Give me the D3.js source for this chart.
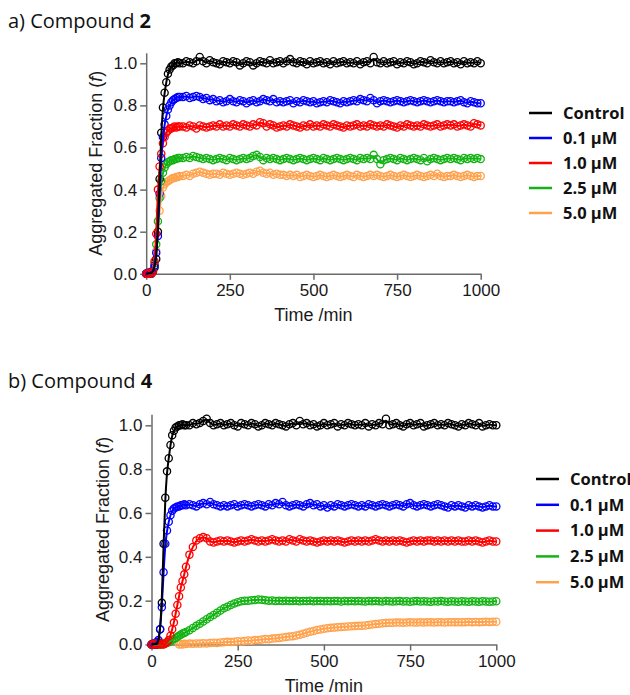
<!DOCTYPE html>
<html>
<head>
<meta charset="utf-8">
<script src="https://cdn.jsdelivr.net/npm/d3@7"></script>
<style>
  body { margin: 0; background: #fff; }
  svg { display: block; }
</style>
</head>
<body>
<div id="root"></div>
<script>
// time points (min), shared by every series
const times = [0,5,10,15,20,25,30,35,40,45,50,55,60,65,70,75,80,85,90,95,100,
  110,120,130,140,150,160,170,180,190,200,
  210,220,230,240,250,260,270,280,290,300,
  310,320,330,340,350,360,370,380,390,400,
  410,420,430,440,450,460,470,480,490,500,
  510,520,530,540,550,560,570,580,590,600,
  610,620,630,640,650,660,670,680,690,700,
  710,720,730,740,750,760,770,780,790,800,
  810,820,830,840,850,860,870,880,890,900,
  910,920,930,940,950,960,970,980,990,1000]

const categories = ["Control", "0.1 µM", "1.0 µM", "2.5 µM", "5.0 µM"]
const xTicks = [0, 250, 500, 750, 1000]
const yTicks = [0, 0.2, 0.4, 0.6, 0.8, 1.0]

// a) Compound 2
const cpd2Control = [0,0,0.005,0,0.01,0.03,0.07,0.2,0.45,0.67,0.79,0.86,0.91,0.95,0.97,0.985,0.99,1.0,1.0,1.005,1.0,
  1.0,1.01,1.005,1.0,1.01,1.03,1.01,1.0,1.015,1.005,
  1.0,0.995,1.01,1.005,1.0,1.01,1.005,0.99,1.0,1.01,
  1.005,0.99,1.0,1.01,1.005,1.0,1.015,1.0,1.005,1.01,
  1.0,1.01,1.02,1.005,1.0,1.01,1.005,0.995,1.01,1.0,
  1.005,1.01,1.0,1.005,0.995,1.01,1.0,1.005,1.01,1.0,
  1.005,1.0,1.01,0.995,1.005,1.01,1.0,1.03,1.005,1.0,
  1.01,1.0,1.005,1.01,0.995,1.005,1.0,1.01,1.005,0.995,
  1.0,1.01,1.005,1.0,1.015,1.005,1.0,1.01,1.0,1.005,
  1.01,1.0,1.005,0.995,1.01,1.0,1.005,1.0,1.01,1.0]
const cpd2Dose01 = [0,0.005,0,0.01,0.01,0.04,0.1,0.18,0.38,0.55,0.65,0.71,0.75,0.78,0.8,0.815,0.825,0.83,0.835,0.84,0.84,
  0.84,0.845,0.835,0.84,0.845,0.84,0.83,0.835,0.825,0.83,
  0.82,0.825,0.815,0.82,0.83,0.82,0.815,0.825,0.82,0.81,
  0.82,0.825,0.815,0.82,0.83,0.825,0.82,0.83,0.815,0.82,
  0.815,0.82,0.825,0.81,0.82,0.815,0.825,0.82,0.815,0.82,
  0.81,0.815,0.82,0.815,0.825,0.82,0.815,0.81,0.82,0.815,
  0.82,0.825,0.82,0.83,0.825,0.82,0.835,0.825,0.81,0.82,
  0.825,0.82,0.815,0.82,0.825,0.82,0.815,0.82,0.825,0.82,
  0.815,0.82,0.825,0.82,0.815,0.82,0.825,0.82,0.815,0.82,
  0.82,0.815,0.82,0.825,0.815,0.81,0.82,0.815,0.81,0.81]
const cpd2Dose10 = [0,0,0.005,0,0.01,0.06,0.19,0.4,0.51,0.57,0.62,0.65,0.67,0.68,0.69,0.69,0.695,0.7,0.695,0.7,0.7,
  0.7,0.695,0.705,0.7,0.69,0.705,0.7,0.695,0.7,0.705,
  0.7,0.71,0.7,0.705,0.7,0.71,0.705,0.7,0.71,0.705,
  0.7,0.71,0.705,0.72,0.715,0.7,0.71,0.705,0.695,0.7,
  0.705,0.7,0.71,0.705,0.7,0.695,0.705,0.7,0.71,0.7,
  0.705,0.7,0.71,0.705,0.7,0.71,0.705,0.7,0.695,0.705,
  0.7,0.705,0.71,0.7,0.705,0.7,0.71,0.705,0.7,0.705,
  0.7,0.71,0.705,0.7,0.695,0.705,0.7,0.71,0.705,0.7,
  0.705,0.7,0.71,0.705,0.7,0.705,0.71,0.7,0.705,0.71,
  0.705,0.71,0.7,0.705,0.71,0.705,0.7,0.715,0.71,0.705]
const cpd2Dose25 = [0,0,0.005,0,0.01,0.05,0.14,0.25,0.36,0.44,0.48,0.505,0.52,0.53,0.535,0.54,0.54,0.545,0.545,0.55,0.55,
  0.55,0.555,0.55,0.56,0.555,0.55,0.545,0.55,0.545,0.54,
  0.545,0.55,0.545,0.54,0.55,0.545,0.54,0.545,0.55,0.545,
  0.55,0.56,0.565,0.555,0.54,0.55,0.545,0.55,0.545,0.54,
  0.545,0.55,0.545,0.54,0.545,0.55,0.545,0.54,0.545,0.55,
  0.545,0.54,0.55,0.545,0.54,0.545,0.55,0.545,0.54,0.545,
  0.55,0.545,0.54,0.55,0.545,0.55,0.545,0.565,0.545,0.52,
  0.54,0.545,0.55,0.545,0.54,0.55,0.545,0.54,0.545,0.55,
  0.545,0.54,0.55,0.535,0.545,0.55,0.545,0.54,0.545,0.55,
  0.545,0.55,0.545,0.54,0.55,0.545,0.55,0.545,0.55,0.545]
const cpd2Dose50 = [0,0,0.005,0,0.01,0.04,0.11,0.2,0.3,0.37,0.41,0.425,0.435,0.44,0.445,0.45,0.455,0.455,0.46,0.46,0.465,
  0.465,0.47,0.465,0.475,0.48,0.485,0.48,0.475,0.47,0.475,
  0.475,0.47,0.48,0.475,0.47,0.475,0.48,0.475,0.47,0.475,
  0.48,0.475,0.485,0.49,0.48,0.475,0.48,0.47,0.475,0.47,
  0.47,0.465,0.47,0.465,0.47,0.46,0.465,0.47,0.465,0.46,
  0.465,0.47,0.465,0.46,0.465,0.47,0.465,0.46,0.465,0.47,
  0.465,0.46,0.47,0.465,0.46,0.465,0.47,0.465,0.47,0.465,
  0.46,0.465,0.47,0.465,0.46,0.465,0.47,0.465,0.46,0.465,
  0.47,0.465,0.46,0.465,0.47,0.465,0.475,0.465,0.46,0.465,
  0.465,0.47,0.465,0.46,0.465,0.47,0.465,0.46,0.465,0.465]

// b) Compound 4
const cpd4Control = [0,0,0.005,0,0.01,0.07,0.19,0.46,0.67,0.79,0.85,0.91,0.955,0.975,0.99,0.995,1.0,1.0,1.005,1.0,1.0,
  1.0,1.01,1.005,1.01,1.02,1.03,1.01,1.0,1.005,1.01,
  1.0,1.005,1.01,1.0,0.995,1.01,1.005,1.0,1.01,1.005,
  0.995,1.0,1.01,1.005,1.0,1.01,1.005,1.0,0.995,1.005,
  1.01,1.0,1.02,1.005,1.01,1.0,1.005,0.995,1.0,1.01,
  1.0,1.005,1.01,0.995,1.005,1.0,1.01,1.005,1.0,1.005,
  1.0,1.01,0.995,1.005,1.0,1.01,1.005,1.03,1.0,1.005,
  1.01,1.0,0.995,1.005,1.01,1.0,1.005,1.01,0.995,1.0,
  1.005,1.01,1.0,1.005,1.0,1.01,1.005,1.0,0.995,1.005,
  1.0,1.01,1.005,1.0,1.01,0.995,1.0,1.005,1.0,1.0]
const cpd4Dose01 = [0,0.005,0,0.01,0.02,0.07,0.17,0.33,0.46,0.52,0.56,0.59,0.61,0.62,0.625,0.63,0.63,0.635,0.635,0.64,0.635,
  0.64,0.635,0.63,0.64,0.645,0.64,0.65,0.64,0.635,0.63,
  0.635,0.63,0.635,0.64,0.63,0.635,0.64,0.635,0.63,0.635,
  0.64,0.635,0.63,0.64,0.635,0.645,0.64,0.65,0.635,0.63,
  0.635,0.64,0.635,0.63,0.64,0.645,0.635,0.64,0.63,0.635,
  0.625,0.635,0.63,0.64,0.635,0.63,0.635,0.64,0.635,0.63,
  0.635,0.63,0.64,0.635,0.63,0.635,0.64,0.635,0.63,0.635,
  0.64,0.635,0.63,0.64,0.645,0.635,0.63,0.635,0.64,0.635,
  0.63,0.635,0.64,0.635,0.63,0.625,0.635,0.63,0.635,0.63,
  0.625,0.635,0.63,0.635,0.63,0.625,0.63,0.635,0.63,0.63]
const cpd4Dose10 = [0,0,0.005,0,0.005,0,0.005,0,0.005,0.01,0.02,0.04,0.07,0.1,0.14,0.18,0.22,0.26,0.29,0.32,0.355,
  0.41,0.445,0.475,0.485,0.49,0.485,0.47,0.465,0.47,0.475,
  0.47,0.475,0.47,0.465,0.47,0.475,0.47,0.475,0.48,0.475,
  0.47,0.475,0.47,0.475,0.48,0.475,0.47,0.475,0.47,0.48,
  0.475,0.47,0.48,0.475,0.47,0.475,0.47,0.465,0.47,0.475,
  0.47,0.475,0.47,0.475,0.47,0.465,0.47,0.475,0.47,0.475,
  0.47,0.475,0.47,0.475,0.48,0.475,0.47,0.475,0.47,0.475,
  0.47,0.475,0.47,0.465,0.47,0.475,0.47,0.475,0.47,0.475,
  0.475,0.47,0.475,0.47,0.475,0.47,0.475,0.47,0.475,0.47,
  0.47,0.475,0.47,0.475,0.47,0.465,0.47,0.475,0.47,0.47]
const cpd4Dose25 = [0,0,0,0,0,0,0,0.002,0.005,0.008,0.01,0.015,0.02,0.025,0.03,0.035,0.04,0.045,0.05,0.053,0.057,
  0.065,0.075,0.085,0.095,0.105,0.115,0.125,0.135,0.145,0.155,
  0.165,0.172,0.18,0.187,0.193,0.197,0.2,0.2,0.202,0.203,
  0.205,0.204,0.202,0.2,0.201,0.199,0.2,0.198,0.2,0.199,
  0.198,0.2,0.197,0.199,0.198,0.2,0.197,0.198,0.199,0.197,
  0.198,0.197,0.199,0.198,0.196,0.198,0.197,0.199,0.197,0.198,
  0.197,0.196,0.198,0.197,0.199,0.197,0.196,0.198,0.197,0.196,
  0.197,0.198,0.196,0.197,0.195,0.197,0.198,0.196,0.197,0.196,
  0.195,0.197,0.196,0.198,0.196,0.195,0.197,0.196,0.195,0.197,
  0.196,0.195,0.197,0.196,0.195,0.197,0.196,0.195,0.196,0.197]
const cpd4Dose50 = [null,null,null,null,null,null,null,null,null,null,null,null,null,null,null,null,0,0.002,0,0.003,0.002,
  0.004,0.003,0.005,0.004,0.006,0.005,0.007,0.008,0.007,0.009,
  0.01,0.012,0.011,0.013,0.015,0.014,0.016,0.018,0.017,0.02,
  0.021,0.023,0.025,0.024,0.027,0.028,0.03,0.032,0.034,0.036,
  0.038,0.041,0.045,0.049,0.054,0.058,0.062,0.066,0.069,0.072,
  0.074,0.076,0.077,0.079,0.08,0.081,0.082,0.083,0.084,0.085,
  0.086,0.087,0.089,0.091,0.093,0.095,0.097,0.098,0.099,0.099,
  0.1,0.1,0.099,0.1,0.101,0.1,0.1,0.101,0.1,0.101,
  0.101,0.1,0.102,0.101,0.1,0.102,0.101,0.102,0.101,0.102,
  0.102,0.103,0.102,0.103,0.102,0.103,0.104,0.103,0.104,0.104]

const colors = ["#000000", "#0000ff", "#ff0000", "#13b313", "#ffa24d"]
// circles are stacked in this order, fitted lines on top (control last)
const dotOrder = [4, 3, 0, 1, 2]
const lineOrder = [4, 3, 2, 1, 0]

const tickFont = "'Liberation Sans', Arial, sans-serif"
const labelFont = "'Open Sans', 'Noto Sans', sans-serif"

function drawPanel(svg, p) {
  const x = d3.scaleLinear().domain([0, 1000]).range([p.x0, p.x1])
  const y = d3.scaleLinear().domain([0, 1.05]).range([p.y0, p.y0 - 1.05 * p.unit])

  const title = svg.append("text")
    .attr("x", 8)
    .attr("y", p.titleY)
    .style("font-family", labelFont)
    .style("font-size", "20px")
    .attr("fill", "#111")
  title.append("tspan").text(p.title)
  title.append("tspan").style("font-weight", "bold").text(p.compound)

  const xAxis = svg.append("g")
    .attr("transform", `translate(0,${p.y0})`)
    .call(d3.axisBottom(x).tickValues(xTicks).tickFormat(d3.format("d"))
      .tickSize(6).tickSizeOuter(0).tickPadding(4))
  const yAxis = svg.append("g")
    .attr("transform", `translate(${p.x0},0)`)
    .call(d3.axisLeft(y).tickValues(yTicks).tickFormat(d3.format(".1f"))
      .tickSize(6).tickSizeOuter(0).tickPadding(3))

  for (const ax of [xAxis, yAxis]) {
    ax.selectAll("path, line").attr("stroke", "#6b6b6b").attr("stroke-width", 1.5)
    ax.selectAll("text")
      .attr("fill", "#1a1a1a")
      .style("font-family", tickFont)
      .style("font-size", "17px")
  }

  svg.append("text")
    .attr("x", (p.x0 + p.x1) / 2)
    .attr("y", p.y0 + 47)
    .attr("text-anchor", "middle")
    .attr("fill", "#1a1a1a")
    .style("font-family", tickFont)
    .style("font-size", "18px")
    .text("Time /min")

  const yLab = svg.append("text")
    .attr("transform", `translate(${p.yLabX},${(y(0) + y(1.05)) / 2}) rotate(-90)`)
    .attr("text-anchor", "middle")
    .attr("dy", "0.35em")
    .attr("fill", "#1a1a1a")
    .style("font-family", tickFont)
    .style("font-size", "18px")
  yLab.append("tspan").text("Aggregated Fraction (")
  yLab.append("tspan").style("font-style", "italic").text("f")
  yLab.append("tspan").text(")")

  const seriesData = p.series.map(vals => times.map((t, i) => ({ t, v: vals[i] })).filter(d => d.v != null))

  const plot = svg.append("g")
  for (const k of dotOrder) {
    plot.append("g")
      .selectAll("circle")
      .data(seriesData[k])
      .join("circle")
      .attr("cx", d => x(d.t))
      .attr("cy", d => y(d.v))
      .attr("r", 3.6)
      .attr("fill", "none")
      .attr("stroke", colors[k])
      .attr("stroke-width", 1.3)
  }

  const line = d3.line()
    .x(d => x(d.t))
    .y(d => y(d.v))
    .curve(d3.curveBasis)
  for (const k of lineOrder) {
    plot.append("path")
      .datum(seriesData[k])
      .attr("d", line)
      .attr("fill", "none")
      .attr("stroke", colors[k])
      .attr("stroke-width", 2)
  }

  const legend = svg.append("g")
  categories.forEach((c, i) => {
    const cy = p.legY + i * p.legStep
    legend.append("line")
      .attr("x1", p.legX).attr("x2", p.legX + 23)
      .attr("y1", cy).attr("y2", cy)
      .attr("stroke", colors[i])
      .attr("stroke-width", 2.5)
    legend.append("text")
      .attr("x", p.legX + 34)
      .attr("y", cy)
      .attr("dy", "0.35em")
      .attr("fill", "#111")
      .style("font-family", labelFont)
      .style("font-weight", "bold")
      .style("font-size", "16.5px")
      .text(c)
  })
}

const svg = d3.select("#root").append("svg")
  .attr("width", 630)
  .attr("height", 695)

drawPanel(svg, {
  title: "a) Compound ", compound: "2", titleY: 28,
  x0: 146.2, x1: 480.7, y0: 273.8, unit: 210.5, yLabX: 96,
  legX: 529, legY: 113, legStep: 25,
  series: [cpd2Control, cpd2Dose01, cpd2Dose10, cpd2Dose25, cpd2Dose50]
})

drawPanel(svg, {
  title: "b) Compound ", compound: "4", titleY: 388,
  x0: 151.5, x1: 496.3, y0: 644.5, unit: 219.2, yLabX: 103,
  legX: 536, legY: 479, legStep: 25.8,
  series: [cpd4Control, cpd4Dose01, cpd4Dose10, cpd4Dose25, cpd4Dose50]
})
</script>
</body>
</html>
